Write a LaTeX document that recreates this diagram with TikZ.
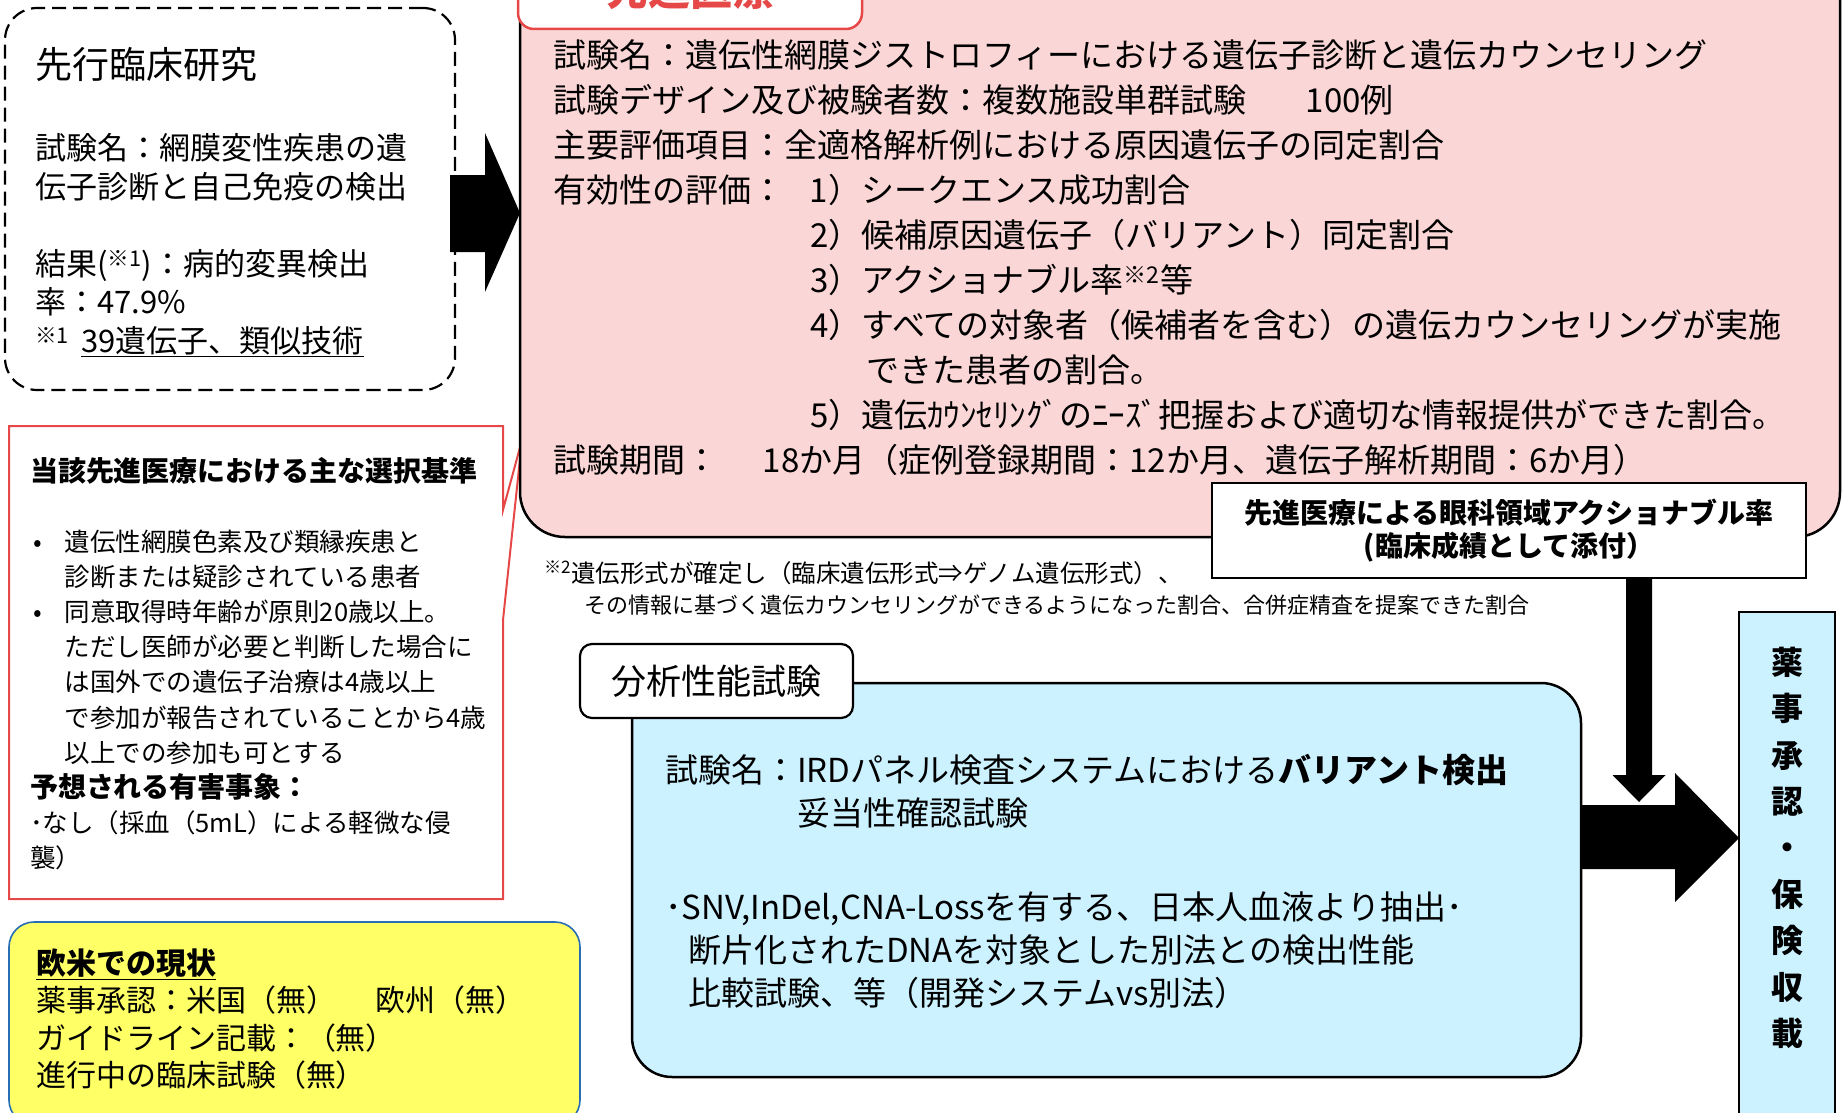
\documentclass[tikz,border=0pt]{standalone}
\usepackage{fontspec}
\setmainfont{Noto Sans CJK JP}
\usetikzlibrary{calc}
\definecolor{pinkfill}{RGB}{250,214,214}
\definecolor{redline}{RGB}{230,72,72}
\definecolor{cyanfill}{RGB}{204,242,255}
\definecolor{yellowfill}{RGB}{255,255,102}
\definecolor{blueline}{RGB}{40,110,180}
\newcommand{\fsz}[2]{\fontsize{#1pt}{#2pt}\selectfont}
\begin{document}
\begin{tikzpicture}[x=1pt,y=-1pt,
  txt/.style={inner sep=0pt,outer sep=0pt,anchor=north west,align=left},
  frame/.style={inner sep=0pt,outer sep=0pt},
  blk/.style={fill=black}]
\useasboundingbox (0,0) rectangle (1842,1113);

% ---- callout: selection criteria
\node[frame, minimum width=494pt, minimum height=473pt, anchor=north west] (B) at (9,426) {};
\coordinate (Btip) at (522,440);
\draw[redline, fill=white, line width=2pt, line join=miter]
  (B.north west) -- (B.north east) -- ($(B.north east)+(0,84)$) -- (Btip)
  -- ($(B.north east)+(0,194)$) -- (B.south east) -- (B.south west) -- cycle;
\node[txt, font={\fsz{28}{34}\bfseries}] (Bhead) at (30,457) {当該先進医療における主な選択基準};
\node[txt, font={\fsz{25.5}{35.1}}] (Bbody) at (30,530) {%
\hspace*{3pt}\makebox[32pt][l]{•}遺伝性網膜色素及び類縁疾患と\\
\hspace*{35pt}診断または疑診されている患者\\
\hspace*{3pt}\makebox[32pt][l]{•}同意取得時年齢が原則20歳以上。\\
\hspace*{35pt}ただし医師が必要と判断した場合に\\
\hspace*{35pt}は国外での遺伝子治療は4歳以上\\
\hspace*{35pt}で参加が報告されていることから4歳\\
\hspace*{35pt}以上での参加も可とする\\
{\fontsize{28pt}{35.1pt}\selectfont\bfseries 予想される有害事象：}\\
･なし（採血（5mL）による軽微な侵\\
襲）};

% ---- advanced medical care box
\node[frame, draw=black, line width=2.5pt, fill=pinkfill, rounded corners=45pt,
  minimum width=1320pt, minimum height=597pt] (pink) at (1180,238.5) {};
\node[frame, draw=redline, line width=2.5pt, fill=white, rounded corners=16pt,
  minimum width=344pt, minimum height=79pt, text=redline,
  font={\fsz{42}{48}\bfseries}] (tabP) at (690,-10.5) {先進医療};
\node[txt, font={\fsz{33}{45}}] (ptxt) at (553,39.5) {%
試験名：遺伝性網膜ジストロフィーにおける遺伝子診断と遺伝カウンセリング\\
試験デザイン及び被験者数：複数施設単群試験\hspace{60pt}100例\\
主要評価項目：全適格解析例における原因遺伝子の同定割合\\
\makebox[257pt][l]{有効性の評価：}1）シークエンス成功割合\\
\hspace*{257pt}2）候補原因遺伝子（バリアント）同定割合\\
\hspace*{257pt}3）アクショナブル率\textsuperscript{※2}等\\
\hspace*{257pt}4）すべての対象者（候補者を含む）の遺伝カウンセリングが実施\\
\hspace*{313pt}できた患者の割合。\\
\hspace*{257pt}5）遺伝ｶｳﾝｾﾘﾝｸﾞのﾆｰｽﾞ把握および適切な情報提供ができた割合。\\
\makebox[210pt][l]{試験期間：}18か月（症例登録期間：12か月、遺伝子解析期間：6か月）};

% ---- prior clinical study (dashed)
\node[frame, draw=black, line width=2.2pt, dash pattern=on 14pt off 7pt,
  rounded corners=32pt, fill=white, minimum width=450pt, minimum height=382pt] (A) at (230,199) {};
\node[txt, font={\fsz{37}{44}}] (Ahead) at (35,47.6) {先行臨床研究};
\node[txt, font={\fsz{31}{38.5}}] (Abody) at (35,133.4) {%
試験名：網膜変性疾患の遺\\
伝子診断と自己免疫の検出\\[38.5pt]
結果(\textsuperscript{※1})：病的変異検出\\
率：47.9\%\\
\textsuperscript{※1}\hspace{12pt}\underline{39遺伝子、類似技術}};

% arrow A -> pink
\fill[blk] ($(A.east |- 0,175)+(-5,0)$) -- ($(pink.west |- 0,175)+(-35,0)$)
  -- ($(pink.west |- 0,133)+(-35,0)$) -- (pink.west |- 0,213)
  -- ($(pink.west |- 0,292)+(-35,0)$) -- ($(pink.west |- 0,252)+(-35,0)$)
  -- ($(A.east |- 0,252)+(-5,0)$) -- cycle;

% ---- footnote
\node[txt, font={\fsz{24.5}{30}}] (note1) at (544,560.5)
  {\textsuperscript{※2}遺伝形式が確定し（臨床遺伝形式⇒ゲノム遺伝形式）、};
\node[txt, font={\fsz{22}{30}}] (note2) at (584,594.7)
  {その情報に基づく遺伝カウンセリングができるようになった割合、合併症精査を提案できた割合};

% ---- actionable rate box
\node[frame, draw=black, line width=2.2pt, fill=white, minimum width=594pt, minimum height=95pt,
  align=center, font={\fsz{28}{33}\bfseries}] (F) at (1509,530.5)
  {先進医療による眼科領域アクショナブル率\\(臨床成績として添付）};

% ---- analytical performance test
\node[frame, draw=black, line width=2.5pt, fill=cyanfill, rounded corners=40pt,
  minimum width=949pt, minimum height=394pt] (D) at (1106.5,880) {};
\node[frame, draw=black, line width=2.2pt, fill=white, rounded corners=12pt,
  minimum width=273pt, minimum height=74pt, font={\fsz{35}{40}}] (tabD) at (716.5,681) {分析性能試験};
\node[txt, font={\fsz{33}{43}}] (Dtxt) at (665,754.5) {%
試験名：IRDパネル検査システムにおける\textbf{バリアント検出}\\
\phantom{試験名：}妥当性確認試験\\[51pt]
･SNV,InDel,CNA-Lossを有する、日本人血液より抽出･\\
\hspace*{23pt}断片化されたDNAを対象とした別法との検出性能\\
\hspace*{23pt}比較試験、等（開発システムvs別法）};

% ---- approval box
\node[frame, draw=black, line width=2.2pt, fill=cyanfill, minimum width=96pt, minimum height=518pt] (E) at (1787,871) {};
\node[frame, anchor=north, align=center, font={\fsz{32}{46.4}\bfseries}] (Etxt) at (1787,647)
  {薬\\事\\承\\認\\・\\保\\険\\収\\載};

% arrow D -> E
\coordinate (Htip) at (E.west |- 0,838);
\fill[blk] (D.east |- 0,805) -- ($(Htip)+(-64,-33)$) -- ($(Htip)+(-64,-65)$) -- (Htip)
  -- ($(Htip)+(-64,64)$) -- ($(Htip)+(-64,31)$) -- (D.east |- 0,869) -- cycle;

% arrow F -> down
\coordinate (Gtop) at ($(F.south)+(130,0)$);
\coordinate (Gtip) at ($(Gtop)+(0,224)$);
\fill[blk] ($(Gtop)+(-13,0)$) -- ($(Gtop)+(13,0)$) -- ($(Gtip)+(13,-27)$) -- ($(Gtip)+(26.5,-27)$)
  -- (Gtip) -- ($(Gtip)+(-26.5,-27)$) -- ($(Gtip)+(-13,-27)$) -- cycle;

% ---- status in US/EU
\node[frame, draw=blueline, line width=1.6pt, fill=yellowfill, rounded corners=25pt,
  minimum width=571pt, minimum height=203pt] (C) at (294.5,1023.5) {};
\node[txt, font={\fsz{30}{37.3}}] (Ctxt) at (36,948.9) {%
\underline{\textbf{欧米での現状}}\\
薬事承認：米国（無）\hspace{40pt}欧州（無）\\
ガイドライン記載：（無）\\
進行中の臨床試験（無）};
\end{tikzpicture}
\end{document}
